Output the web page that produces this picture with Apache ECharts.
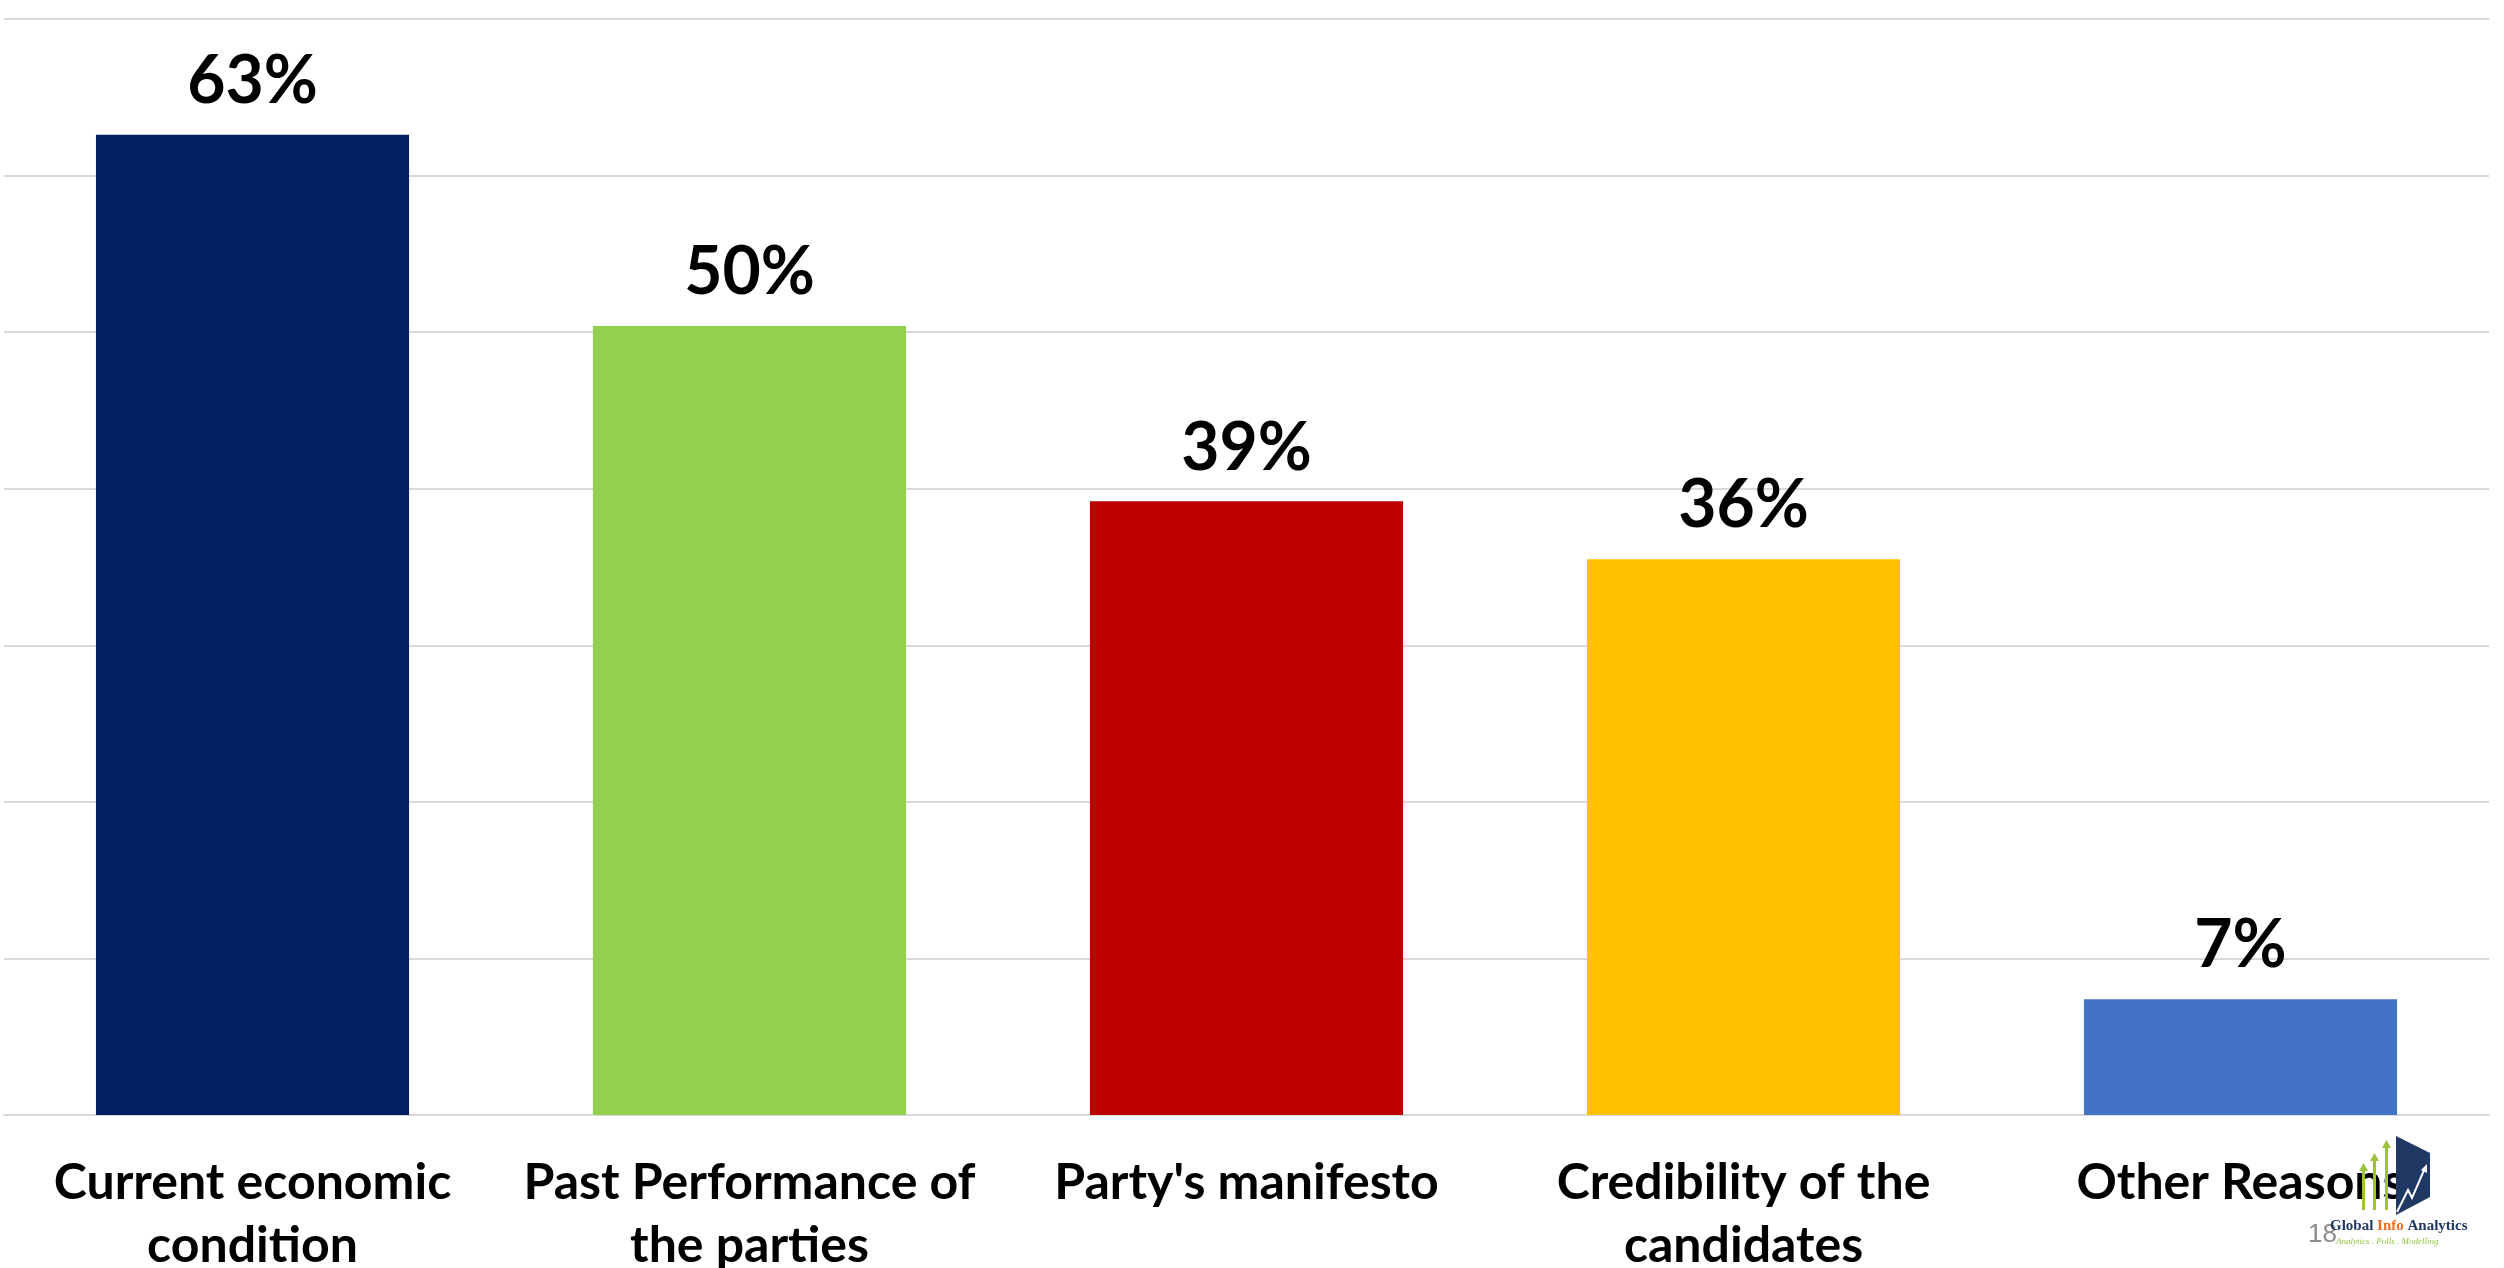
<!DOCTYPE html>
<html>
<head>
<meta charset="utf-8">
<script src="https://cdn.jsdelivr.net/npm/echarts@6/dist/echarts.min.js"></script>
<style>
html,body{margin:0;padding:0;background:#fff;}
#chart{width:2504px;height:1268px;}
</style>
</head>
<body>
<div id="chart"></div>
<script>
const categories = ["Current economic\ncondition", "Past Performance of\nthe parties", "Party's manifesto", "Credibility of the\ncandidates", "Other Reasons"];
const values = [62.6, 50.4, 39.2, 35.5, 7.4];
const barColors = ["#002060", "#92d050", "#c00000", "#ffc000", "#4472c4"];
const yTicks = [0, 10, 20, 30, 40, 50, 60, 70];

const chart = echarts.init(document.getElementById('chart'), null, {renderer: 'canvas'});
const FONT = 'Lato';
chart.setOption({
  animation: false,
  backgroundColor: '#ffffff',
  grid: {left: 4, right: 15, top: 19, bottom: 153, containLabel: false, outerBoundsMode: 'none'},
  xAxis: {
    type: 'category',
    data: categories,
    axisLine: {lineStyle: {color: '#d9d9d9', width: 2}},
    axisTick: {show: false},
    axisLabel: {
      interval: 0,
      margin: 36,
      color: '#000000',
      fontFamily: FONT,
      fontWeight: 'bold',
      fontSize: 50,
      lineHeight: 63
    }
  },
  yAxis: {
    type: 'value',
    min: yTicks[0],
    max: yTicks[yTicks.length - 1],
    interval: 10,
    axisLine: {show: false},
    axisTick: {show: false},
    axisLabel: {show: false},
    splitLine: {lineStyle: {color: '#d9d9d9', width: 2}}
  },
  series: [{
    type: 'bar',
    data: values.map((v, i) => ({value: v, itemStyle: {color: barColors[i]}})),
    barWidth: '63%',
    label: {
      show: true,
      position: 'top',
      distance: 20,
      formatter: p => Math.round(p.value) + '%',
      color: '#000000',
      fontFamily: FONT,
      fontWeight: 'bold',
      fontSize: 66
    }
  }],
  graphic: [
    {type: 'polygon', shape: {points: [[2396,1136],[2430,1153],[2430,1197],[2396,1215]]}, style: {fill: '#1f3864'}, z: 10},
    {type: 'polyline', shape: {points: [[2397,1212],[2408,1190],[2412,1198],[2425,1168]]}, style: {stroke: '#ffffff', lineWidth: 2, fill: null}, z: 11},
    {type: 'polygon', shape: {points: [[2421,1170],[2427,1164],[2427,1173]]}, style: {fill: '#ffffff'}, z: 11},
    {type: 'rect', shape: {x: 2362, y: 1170, width: 3, height: 40}, style: {fill: '#9dc23b'}, z: 10},
    {type: 'polygon', shape: {points: [[2359,1171],[2363.5,1163],[2368,1171]]}, style: {fill: '#9dc23b'}, z: 10},
    {type: 'rect', shape: {x: 2373, y: 1160, width: 3, height: 50}, style: {fill: '#9dc23b'}, z: 10},
    {type: 'polygon', shape: {points: [[2370,1161],[2374.5,1153],[2379,1161]]}, style: {fill: '#9dc23b'}, z: 10},
    {type: 'rect', shape: {x: 2385, y: 1147, width: 3, height: 63}, style: {fill: '#9dc23b'}, z: 10},
    {type: 'polygon', shape: {points: [[2382,1148],[2386.5,1140],[2391,1148]]}, style: {fill: '#9dc23b'}, z: 10},
    {type: 'text', x: 2308, y: 1222, style: {text: '18', fill: '#8c8c8c', font: '26px "Liberation Sans"'}, z: 9},
    {type: 'text', x: 2330, y: 1219, style: {
      text: '{a|Global }{b|Info }{a|Analytics}',
      rich: {
        a: {fill: '#1f3864', fontFamily: 'Liberation Serif', fontWeight: 'bold', fontSize: 15},
        b: {fill: '#f26b21', fontFamily: 'Liberation Serif', fontWeight: 'bold', fontSize: 15}
      }
    }, z: 12},
    {type: 'text', x: 2336, y: 1237, style: {text: 'Analytics . Polls . Modelling', fill: '#8dc63f', font: 'italic 9px "Liberation Serif"'}, z: 12}
  ]
});
</script>
</body>
</html>
